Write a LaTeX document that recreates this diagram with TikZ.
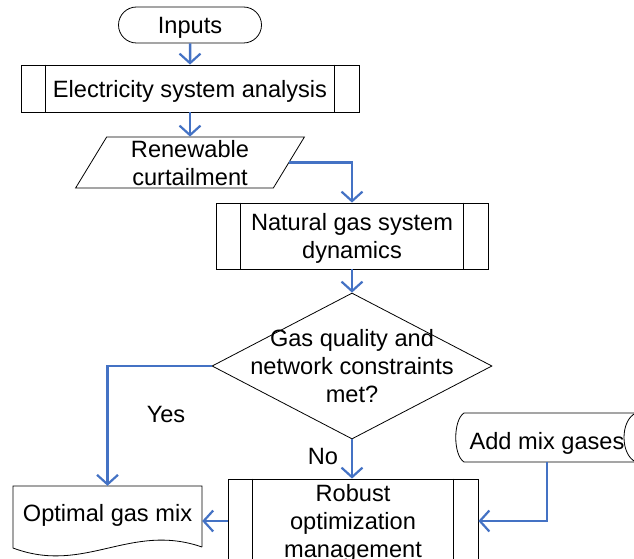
\documentclass[tikz,border=0pt]{standalone}
\usepackage{fontspec}
\setmainfont{Liberation Sans}
\usetikzlibrary{arrows.meta,shapes.geometric,shapes.misc,positioning}
\definecolor{flowblue}{RGB}{68,114,196}

\begin{document}
\begin{tikzpicture}[x=1pt, y=-1pt,
    font=\fontsize{23.6}{28}\selectfont,
    every node/.style={text depth=0pt},
    box/.style={draw, line width=0.8pt, inner sep=0pt, align=center},
    subproc/.style={box, rectangle},
    flow/.style={draw=flowblue, line width=2.5pt,
        -{Straight Barb[length=9.5pt, width=21pt, line width=2.2pt]}}]
    \useasboundingbox (0,0) rectangle (634,559);
    \clip (0,0) rectangle (634,559);

    % Main column
    \node[box, rounded rectangle, minimum width=143pt, minimum height=36pt] (inputs) at (190,25) {Inputs};
    \node[subproc, minimum width=338pt, minimum height=47pt] (elec) at (190,88.5) {Electricity system analysis};
    \node[box, trapezium, trapezium left angle=64, trapezium right angle=116,
          trapezium stretches=true, minimum width=229pt, minimum height=51pt] (curtail) at (190,162.5) {Renewable\\curtailment};
    \node[subproc, minimum width=272pt, minimum height=66pt] (gasdyn) at (352,236) {Natural gas system\\dynamics};

    % Decision
    \node[box, diamond, minimum width=280pt, minimum height=146pt,
          label={[align=center]center:Gas quality and\\network constraints\\met?}] (check) at (352,366) {};

    % Lower row
    \node[subproc, minimum width=250pt, minimum height=84pt] (robust) at (353,521) {Robust\\optimization\\management};
    \node[inner sep=0pt, minimum width=189pt, minimum height=54pt] (optmix) at (107.5,513) {Optimal gas mix};
    \node[inner sep=0pt, minimum width=166pt, minimum height=42pt] (mixgas) at (547,441) {Add mix gases};

    % Side bars of the subprocess boxes
    \foreach \n in {elec,gasdyn,robust} {
        \draw[line width=0.8pt] ([xshift=25pt]\n.north west) -- ([xshift=25pt]\n.south west);
        \draw[line width=0.8pt] ([xshift=-25pt]\n.north east) -- ([xshift=-25pt]\n.south east);
    }

    % Document outline
    \draw[line width=0.8pt] (202,547) -- (202,486) -- (13,486) -- (13,548)
        .. controls (85,575) and (130,522) .. (202,547);
    % Stored data outline
    \draw[line width=0.8pt] (640,413) -- (464,413) .. controls (453,420) and (453,455) .. (464,462) -- (640,462);
    \draw[line width=0.8pt] (636,413) .. controls (620,420) and (620,455) .. (636,462);

    % Connectors
    \draw[flow] (inputs) -- (elec);
    \draw[flow] (elec) -- (curtail);
    \draw[flow] (curtail.east) -| (gasdyn.north);
    \draw[flow] (gasdyn) -- (check);
    \draw[flow] (check.west) -| (optmix.north);
    \draw[flow] (check.south) -- (check.south |- robust.north);
    \draw[flow] (robust.west) -- (robust.west -| optmix.east);
    \draw[flow] (mixgas.south) |- (robust.east);

    % Branch labels
    \node (yes) at (166,414) {Yes};
    \node (no) at (323,456) {No};
\end{tikzpicture}
\end{document}
